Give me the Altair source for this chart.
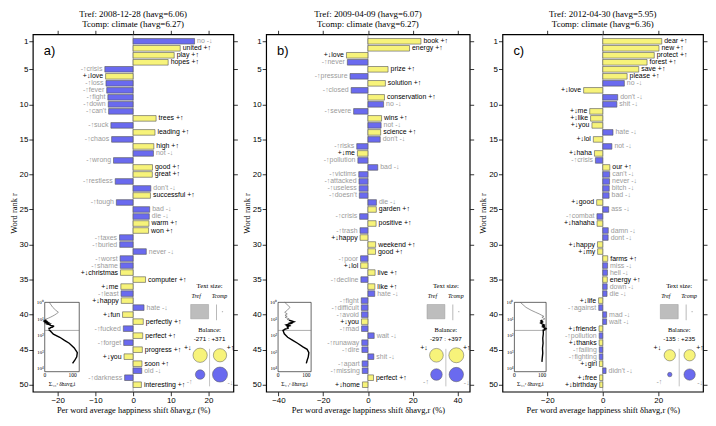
import altair as alt
import numpy as np
import pandas as pd

SANS = "Liberation Sans"
SERIF = "Liberation Serif"
YEL = "#f7f37a"
BLU = "#6a6aef"
GRAY_TXT = "#9a9a9a"
YTICKS = [1, 5, 10, 15, 20, 25, 30, 35, 40, 45, 50]
H = 360

# ---------------- panel a ----------------
a_title = ["Tref: 2008-12-28 (havg=6.06)", "Tcomp: climate (havg=6.27)"]
a_words = ["no", "united", "play", "hopes", "crisis", "love", "loss", "fever", "fight", "down",
           "can't", "trees", "suck", "leading", "chaos", "high", "not", "wrong", "good", "great",
           "restless", "don't", "successful", "tough", "bad", "die", "warm", "won", "taxes", "buried",
           "never", "worst", "shame", "christmas", "computer", "me", "least", "happy", "hate", "fun",
           "perfectly", "fucked", "perfect", "forget", "progress", "you", "soon", "old", "darkness", "interesting"]
a_types = ["-↓", "+↑", "+↑", "+↑", "-↑", "+↓", "-↑", "-↑", "-↑", "-↑",
           "-↑", "+↑", "-↑", "+↑", "-↑", "+↑", "-↓", "-↑", "+↑", "+↑",
           "-↑", "-↓", "+↑", "-↑", "-↓", "-↓", "+↑", "+↑", "-↑", "-↑",
           "-↓", "-↑", "-↑", "+↓", "+↑", "+↓", "-↑", "+↓", "-↓", "+↓",
           "+↑", "-↑", "+↑", "-↑", "+↑", "+↓", "+↑", "-↓", "-↑", "+↑"]
a_shift = [16.3, 12.5, 10.9, 9.3, -7.5, -7.3, -7.2, -7.0, -6.7, -6.6,
           -6.5, 6.1, -5.9, 5.8, -5.7, 5.5, 5.4, -5.2, 5.15, 5.1,
           -4.75, 4.7, 4.6, -4.45, 4.4, 4.3, 4.2, 4.1, -3.6, -3.55,
           3.5, -3.45, -3.4, -3.35, 3.3, -3.25, -3.2, -3.15, 2.9, -2.8,
           2.7, -2.6, 2.55, -2.5, 2.45, -2.4, 2.35, 2.3, -2.25, 2.2]
a_tail_rank = [85, 130, 200, 300, 575, 1100, 2000, 3200, 5000]
a_tail_cum = [31, 54, 71, 88, 106, 117, 115, 108, 100]
a_balance = [-188, 162, -83, 209]  # +↓, +↑, -↑, -↓

# ---------------- panel b ----------------
b_title = ["Tref: 2009-04-09 (havg=6.07)", "Tcomp: climate (havg=6.27)"]
b_words = ["book", "energy", "love", "never", "prize", "pressure", "solution", "closed", "conservation", "no",
           "severe", "wins", "not", "science", "don't", "risks", "me", "pollution", "bad", "victims",
           "attacked", "useless", "doesn't", "die", "garden", "crisis", "positive", "trash", "happy", "weekend",
           "good", "poor", "lol", "live", "decline", "like", "hate", "fight", "difficult", "avoid",
           "you", "mad", "wait", "runaway", "dire", "shit", "apart", "missing", "perfect", "home"]
b_types = ["+↑", "+↑", "+↓", "-↑", "+↑", "-↑", "+↑", "-↑", "+↑", "-↓",
           "-↑", "+↑", "-↓", "+↑", "-↓", "-↑", "+↓", "-↑", "-↓", "-↑",
           "-↑", "-↑", "-↑", "-↓", "+↑", "-↑", "+↑", "-↑", "+↓", "+↑",
           "+↑", "-↑", "+↓", "+↑", "-↑", "+↑", "-↓", "-↑", "-↑", "-↑",
           "+↓", "-↑", "-↓", "-↑", "-↑", "-↓", "-↑", "-↑", "+↑", "+↓"]
b_shift = [23.7, 18.6, -9.6, -9.2, 9.0, -8.0, 7.8, -7.5, 7.4, 7.0,
           -6.4, 6.1, 5.9, 5.7, 5.5, -5.0, -4.7, -4.5, 4.4, -4.1,
           -4.0, -3.9, -3.85, 3.8, 3.75, -3.7, 3.65, -3.55, -3.5, 3.45,
           3.4, -3.3, -3.25, 3.2, -3.15, 3.1, 3.05, -3.0, -2.95, -2.9,
           -2.9, -2.85, 2.8, -2.75, -2.7, 2.65, -2.6, -2.55, 2.5, -2.45]
b_tail_rank = [80, 130, 200, 300, 500, 700, 1100, 2000, 3200, 5000]
b_tail_cum = [22, 34, 52, 69, 88, 103, 109, 107, 103, 100]
b_balance = [-173, 206, -124, 191]

# ---------------- panel c ----------------
c_title = ["Tref: 2012-04-30 (havg=5.95)", "Tcomp: climate (havg=6.36)"]
c_words = ["dear", "new", "protect", "forest", "save", "please", "no", "love", "don't", "shit",
           "me", "like", "you", "hate", "lol", "not", "haha", "crisis", "our", "can't",
           "never", "bitch", "bad", "good", "ass", "combat", "hahaha", "damn", "dont", "happy",
           "my", "farms", "miss", "hell", "energy", "down", "die", "life", "against", "mad",
           "wait", "friends", "pollution", "thanks", "failing", "fighting", "girl", "didn't", "free", "birthday"]
c_types = ["+↑", "+↑", "+↑", "+↑", "+↑", "+↑", "-↓", "+↓", "-↓", "-↓",
           "+↓", "+↓", "+↓", "-↓", "+↓", "-↓", "+↓", "-↑", "+↑", "-↓",
           "-↓", "-↓", "-↓", "+↓", "-↓", "-↑", "+↓", "-↓", "-↓", "+↓",
           "+↓", "+↑", "-↓", "-↓", "+↑", "-↓", "-↓", "+↓", "-↑", "-↓",
           "-↓", "+↓", "-↑", "+↓", "-↑", "-↑", "+↓", "-↓", "+↓", "+↓"]
c_shift = [21.3, 20.3, 18.6, 16.0, 13.0, 8.8, 7.8, -6.9, 5.4, 5.1,
           -4.7, -4.4, -3.9, 3.7, -3.4, 3.3, -3.0, -2.65, 2.55, 2.5,
           2.45, 2.35, 2.3, -2.2, 2.15, -2.1, -2.05, 2.0, 1.95, -1.9,
           -1.85, 1.8, 1.75, 1.7, 1.65, 1.6, 1.55, -1.5, -1.45, 1.4,
           1.4, -1.35, -1.3, -1.3, -1.25, -1.25, -1.2, 1.2, -1.15, -1.1]
c_tail_rank = [80, 150, 300, 600, 1200, 2500, 4000]
c_tail_cum = [104, 102, 103, 101, 102, 100, 99]
c_balance = [-117, 117, -18, 118]

X_TITLE = "Per word average happiness shift δhavg,r (%)"
Y_TITLE = "Word rank r"


def one():
    return alt.Chart(pd.DataFrame({"v": [0]}))


def label(s, x, y, size=7.0, color="black", font=SANS, align="center", style="normal"):
    return one().mark_text(text=s, font=font, fontSize=size, color=color, align=align,
                           baseline="middle", fontStyle=style).encode(x=alt.value(x), y=alt.value(y))


def panel(title, words, types, shift, tail_rank, tail_cum, balance, letter, W, xmax, xticks, dmax):
    df = pd.DataFrame({"rank": np.arange(1, 51), "word": words, "type": types, "shift": shift})
    df["kind"] = np.where(df["type"].str.startswith("+"), "pos", "neg")
    df["label"] = np.where(df["shift"] > 0, df["word"] + " " + df["type"], df["type"] + df["word"])

    xs = alt.Scale(domain=[-xmax, xmax], nice=False, zero=False)
    ys = alt.Scale(domain=[0, 51], reverse=True, nice=False, zero=False)
    ax = dict(tickSize=4, tickColor="black", tickWidth=0.8, domain=False, grid=False,
              labelFont=SANS, labelFontSize=8, labelColor="black", labelPadding=1,
              titleFont=SERIF, titleFontSize=8.5, titleFontWeight="normal", titleColor="black")
    base = alt.Chart(df)
    fillc = alt.condition("datum.kind == 'pos'", alt.value(YEL), alt.value(BLU))
    textc = alt.condition("datum.kind == 'pos'", alt.value("black"), alt.value(GRAY_TXT))

    zero = one().mark_rule(color="#777", strokeWidth=0.6).encode(
        x=alt.X(datum=0, scale=xs, axis=None))
    bars = base.transform_calculate(lo="datum.rank - 0.4", hi="datum.rank + 0.4", z="0").mark_bar(
        stroke="#555", strokeWidth=0.6).encode(
        x=alt.X("shift:Q", scale=xs, axis=alt.Axis(values=xticks, title=X_TITLE, titlePadding=1, **ax)),
        x2="z:Q",
        y=alt.Y("lo:Q", scale=ys, axis=alt.Axis(values=YTICKS, title=Y_TITLE, titlePadding=1, **ax)),
        y2="hi:Q",
        fill=fillc)
    mirror = base.mark_point(opacity=0).encode(
        x=alt.X("shift:Q", scale=xs, axis=alt.Axis(orient="top", values=xticks, labels=False, title=None, **ax)),
        y=alt.Y("rank:Q", scale=ys, axis=alt.Axis(orient="right", values=YTICKS, labels=False, title=None, **ax)))
    tr = base.transform_filter("datum.shift > 0").mark_text(
        align="left", baseline="middle", dx=2.5, font=SANS, fontSize=7.0).encode(
        x=alt.X("shift:Q", scale=xs, axis=None), y=alt.Y("rank:Q", scale=ys, axis=None),
        text="label:N", color=textc)
    tl = base.transform_filter("datum.shift < 0").mark_text(
        align="right", baseline="middle", dx=-2.5, font=SANS, fontSize=7.0).encode(
        x=alt.X("shift:Q", scale=xs, axis=None), y=alt.Y("rank:Q", scale=ys, axis=None),
        text="label:N", color=textc)
    let = label(letter, 11, 17, size=13, align="left")

    # ---- inset: cumulative shift vs rank (log)
    k = 0.29 * W / 209.0
    ix0 = 12.0
    ix1 = ix0 + dmax * k
    iy0 = 0.750 * H
    iy1 = 0.944 * H
    logmax = 10 ** 4.2
    ixs = alt.Scale(domain=[0, dmax], range=[ix0, ix1], nice=False, zero=False)
    iys = alt.Scale(type="log", domain=[1, logmax], range=[iy0, iy1], nice=False)
    cum = np.cumsum(shift)
    r = np.arange(1, 51)
    thin_df = pd.DataFrame({"rank": r[:12], "cum": cum[:12]})
    thick_df = pd.DataFrame({"rank": np.concatenate([r[11:], tail_rank]),
                             "cum": np.concatenate([cum[11:], tail_cum])})

    def iline(d, w, c):
        return alt.Chart(d).mark_line(strokeWidth=w, color=c).encode(
            x=alt.X("cum:Q", scale=ixs, axis=None), y=alt.Y("rank:Q", scale=iys, axis=None),
            order="rank:Q")

    frame = one().mark_rect(fillOpacity=0, stroke="black", strokeWidth=0.6).encode(
        x=alt.X(datum=0, scale=ixs, axis=None), x2=alt.X2(datum=dmax),
        y=alt.Y(datum=1, scale=iys, axis=None), y2=alt.Y2(datum=logmax))
    r50 = one().mark_rule(color="#777", strokeWidth=0.6).encode(
        x=alt.X(datum=0, scale=ixs, axis=None), x2=alt.X2(datum=dmax),
        y=alt.Y(datum=50, scale=iys, axis=None))
    ylab_df = pd.DataFrame({"rank": [1, 10, 100, 1000, 10000], "t": ["10⁰", "10¹", "10²", "10³", "10⁴"]})
    ylab = alt.Chart(ylab_df).mark_text(align="right", baseline="middle", dx=-1, font=SERIF,
                                        fontSize=5).encode(
        x=alt.X(datum=0, scale=ixs, axis=None), y=alt.Y("rank:Q", scale=iys, axis=None), text="t:N")
    xlab_df = pd.DataFrame({"cum": [0, 100], "t": ["0", "100"]})
    xlab = alt.Chart(xlab_df).mark_text(align="center", baseline="top", font=SERIF, fontSize=5.5).encode(
        x=alt.X("cum:Q", scale=ixs, axis=None), y=alt.value(iy1 + 1.5), text="t:N")
    sig = label("Σᵢ₌₁ʳ δhavg,i", (ix0 + ix1) / 2, iy1 + 12, size=5.5, font=SERIF)

    # ---- text size legend + balance
    R = W
    cx = R - 24
    leg = [
        label("Text size:", cx, 0.705 * H, size=6.8, font=SERIF),
        label("Tref", R - 37.5, 0.733 * H, size=6, font=SERIF, style="italic"),
        label("Tcomp", R - 14, 0.733 * H, size=6, font=SERIF, style="italic"),
        one().mark_rect(fill="#bdbdbd", stroke="#999", strokeWidth=0.5).encode(
            x=alt.value(R - 43), x2=alt.value(R - 25), y=alt.value(0.756 * H), y2=alt.value(0.796 * H)),
        one().mark_rule(color="#999", strokeWidth=0.7).encode(
            x=alt.value(R - 17), y=alt.value(0.756 * H), y2=alt.value(0.80 * H)),
        one().mark_square(size=1.5, color="#bbb", opacity=1).encode(
            x=alt.value(R - 11), y=alt.value(0.776 * H)),
        label("Balance:", cx, 0.827 * H, size=6.5, font=SERIF),
        label(f"{balance[0] + balance[2]} : +{balance[1] + balance[3]}", cx, 0.852 * H, size=6.3),
        one().mark_rule(color="#aaa", strokeWidth=0.7).encode(
            x=alt.value(cx), y=alt.value(0.88 * H), y2=alt.value(0.985 * H)),
        label("+↓", R - 46, 0.878 * H, size=7),
        label("+↑", R - 3, 0.878 * H, size=7),
        label("-↑", R - 44, 0.972 * H, size=7, color=GRAY_TXT),
        label("-↓", R - 3, 0.976 * H, size=7, color=GRAY_TXT),
    ]
    bdf = pd.DataFrame({"cat": ["+↓", "+↑", "-↑", "-↓"], "val": np.abs(balance),
                        "col": ["L", "R", "L", "R"], "row": ["T", "T", "B", "B"],
                        "kind": ["pos", "pos", "neg", "neg"]})
    circ = alt.Chart(bdf).mark_circle(opacity=1, stroke="#555", strokeWidth=0.5).encode(
        x=alt.X("col:N", scale=alt.Scale(type="point", domain=["L", "R"], range=[R - 33.5, R - 13.5], padding=0),
                axis=None),
        y=alt.Y("row:N", scale=alt.Scale(type="point", domain=["T", "B"], range=[0.898 * H, 0.952 * H], padding=0),
                axis=None),
        size=alt.Size("val:Q", scale=alt.Scale(domain=[0, float(np.max(np.abs(balance)))], range=[0, 230]),
                      legend=None),
        fill=fillc)

    layers = [zero, bars, mirror, tr, tl, let,
              frame, r50, iline(thin_df, 0.6, "#555"), iline(thick_df, 1.4, "black"), ylab, xlab, sig,
              circ] + leg
    return alt.layer(*layers).resolve_scale(x="independent", y="independent").properties(
        width=W, height=H,
        title=alt.TitleParams(text=title, font=SERIF, fontSize=9, fontWeight="normal", offset=1,
                              lineHeight=9.5, anchor="middle", color="black"))


pa = panel(a_title, a_words, a_types, a_shift, a_tail_rank, a_tail_cum, a_balance, "a)", 202, 26.6,
           [-20, -10, 0, 10, 20], 124)
pb = panel(b_title, b_words, b_types, b_shift, b_tail_rank, b_tail_cum, b_balance, "b)", 205, 45.5,
           [-40, -20, 0, 20, 40], 117)
pc = panel(c_title, c_words, c_types, c_shift, c_tail_rank, c_tail_cum, c_balance, "c)", 202, 36.2,
           [-20, 0, 20], 114)

chart = alt.hconcat(pa, pb, pc, spacing=3).properties(padding=0).configure_view(
    stroke="black", strokeWidth=1.2)

chart.save("out.html", embed_options={"renderer": "svg", "actions": False})
